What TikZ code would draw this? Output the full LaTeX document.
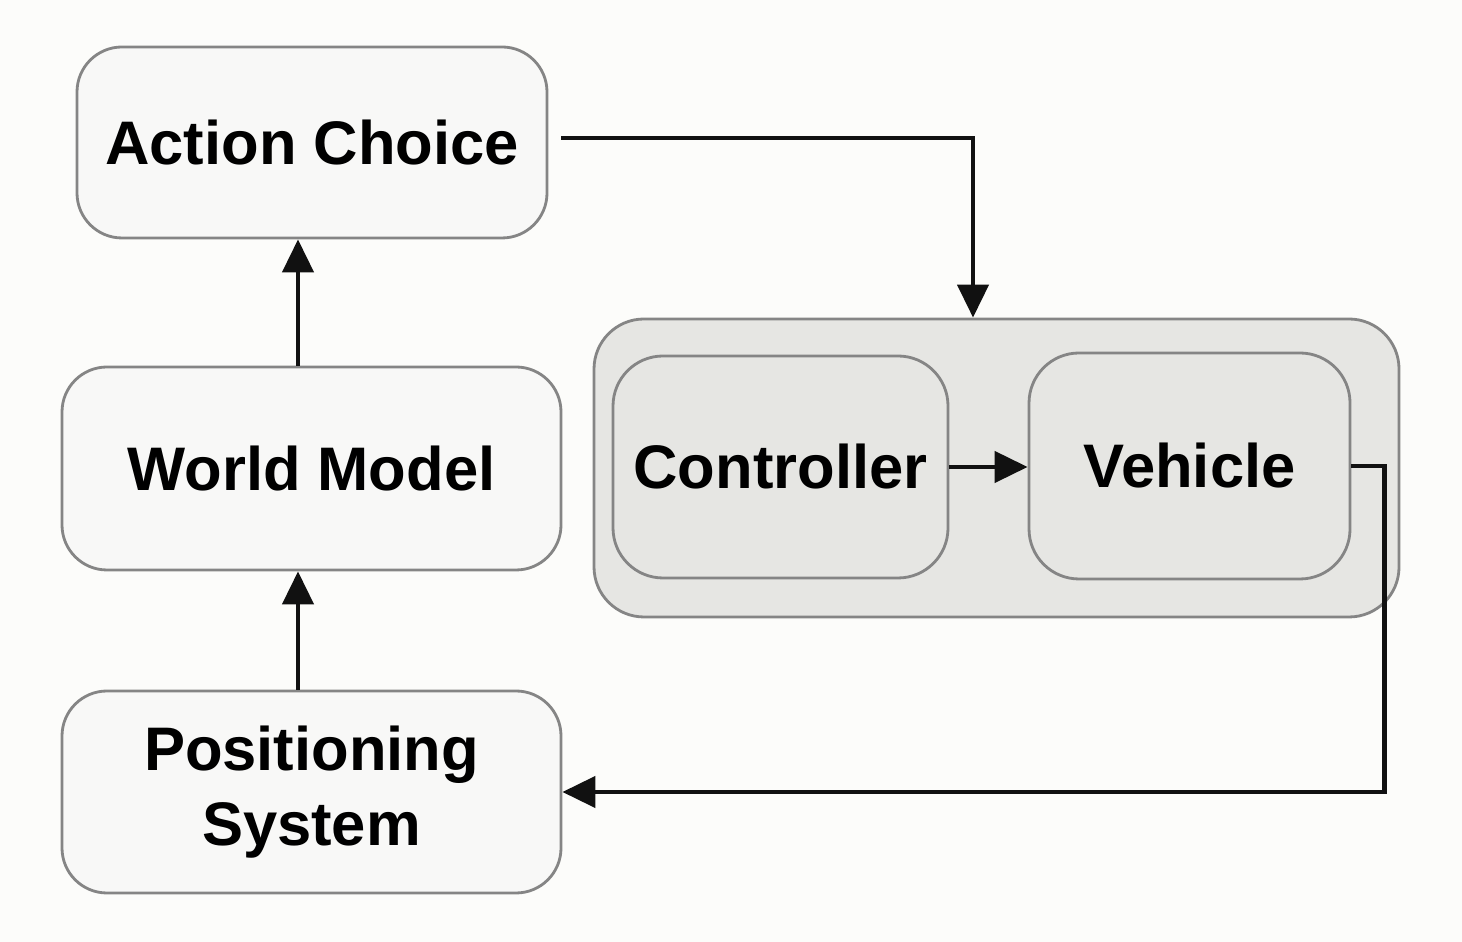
\documentclass[tikz,border=0pt]{standalone}
\usepackage{fontspec}
\setmainfont{Liberation Sans}
\usetikzlibrary{arrows.meta}
\definecolor{pagebg}{HTML}{FCFCFA}
\definecolor{boxfill}{HTML}{F8F8F7}
\definecolor{grpfill}{HTML}{E6E6E3}
\definecolor{boxline}{HTML}{858585}
\definecolor{arrline}{HTML}{111111}
\tikzset{
  block/.style={draw=boxline, line width=0.8pt, rounded corners=0.45cm, fill=boxfill,
    align=center, inner sep=0pt, font=\fontsize{17.5}{21.5}\selectfont\bfseries},
  inblock/.style={block, fill=grpfill, rounded corners=0.5cm},
  arr/.style={draw=arrline, line width=1.25pt, -{Triangle[length=0.33cm,width=0.31cm]}}
}
\begin{document}
\begin{tikzpicture}
    \fill[pagebg] (0,0) rectangle (14.62,9.42);
    \useasboundingbox (0,0) rectangle (14.62,9.42);
    \path   node[block, minimum width=4.70cm, minimum height=1.91cm] (AC) at (3.12, 7.995) {Action Choice}
            node[block, minimum width=4.99cm, minimum height=2.03cm] (WM) at (3.115, 4.735) {World Model}
            node[block, minimum width=4.99cm, minimum height=2.02cm] (PS) at (3.115, 1.50) {Positioning\\System}
            node[block, fill=grpfill, rounded corners=0.5cm, minimum width=8.05cm, minimum height=2.98cm] (G) at (9.965, 4.74) {}
            node[inblock, minimum width=3.35cm, minimum height=2.22cm] (C) at (7.805, 4.75) {Controller}
            node[inblock, minimum width=3.21cm, minimum height=2.26cm] (V) at (11.895, 4.76) {Vehicle};
    \draw[arr] ([xshift=-1.35mm]WM.north) -- ([xshift=-1.35mm]WM.north |- AC.south);
    \draw[arr] ([xshift=-1.35mm]PS.north) -- ([xshift=-1.35mm]PS.north |- WM.south);
    \draw[arr] ([shift={(0.13,0.045)}]AC.east) -| ([xshift=-2.35mm]G.north);
    \draw[arr] (C.east) -- (C.east -| V.west);
    \draw[arr] (V.east) -- ++(0.33,0) |- (PS.east);
\end{tikzpicture}
\end{document}
